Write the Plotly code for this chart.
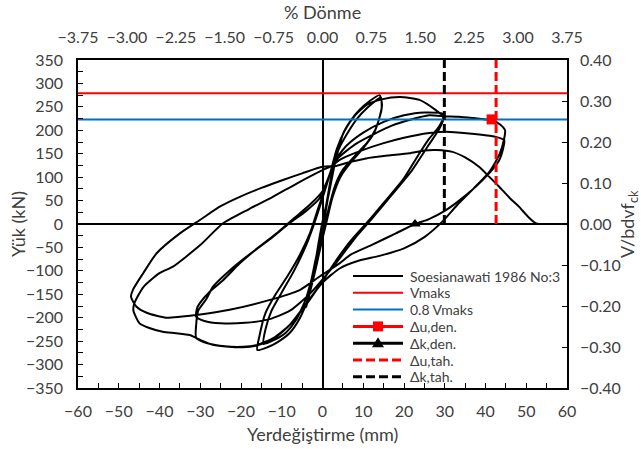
import plotly.graph_objects as go

# ---------------- data ----------------
# hysteresis path (displacement mm, load kN), in loading order
disp_mm = [
    0, 1, 2, 3, 4, 3, 1.5, 0, -1, -2, -3, -4, -3, -1.5, 0,
    1, 2, 3.5, 5, 7, 9, 11.5, 14,
    14.6, 14, 12.5, 10, 7, 4.5, 2.5, 1, -0.5, -2, -3.5, -5.5, -8, -11, -13.5, -16,
    -15.5, -14, -11.5, -8.5, -5.5, -3, -1, 1, 2.5, 4, 6, 8.5, 11, 13.5, 14.3,
    14.5, 13, 11, 8, 5, 3, 1.5, 0, -2, -4, -6.5, -9, -12, -14.5,
    -14, -12.5, -10, -7, -4, -2, 0, 2, 3.5, 5.5, 8, 11, 14.5, 19, 23.8, 27.8, 29.6,
    28.6, 26, 23.8, 19.7, 15.5, 11.5, 7, 3.4, 0, -4, -8, -12, -16, -19.5, -24, -28, -31,
    -31, -30.5, -28.5, -26.9, -22.5, -18.7, -13, -8.1, -4, -0.7, 1.5, 3, 6, 10, 15, 20, 25, 29.8,
    28.8, 26, 22, 17, 12.5, 8, 4.5, 1, -3, -8, -13, -19, -25, -29, -31,
    -30.8, -30.1, -27.5, -24.4, -20.3, -16, -11, -7, -3, 0, 2, 3.4, 8, 13.1, 17, 21.3, 26.2, 30, 33.5, 37, 40.1, 41.5, 43.5, 44.8,
    44.6, 43.5, 41, 37, 33, 29.4, 25, 20, 14, 9, 4.2, 0, -4, -8, -12, -16, -19.5, -23, -26.9, -30.1, -32.6, -36, -39.2, -42.5, -44.9, -46.4,
    -46.2, -44, -40, -36.7, -30, -24.4, -18, -12.2, -6, 0, 2.5, 4.2, 9, 14.8, 20, 26.2, 30.3, 36, 42.5, 44.6,
    44.3, 43.3, 40, 35, 30, 26, 22.7, 18, 12, 7, 4, -0.7, -5.6, -12.9, -22.8, -30, -35, -38.4, -43, -45.7, -47,
    -46.5, -44, -40.7, -35, -30.1, -25, -20.3, -15, -9.7, -5, 0, 3.4, 7, 10.7, 16, 21.3, 25, 28, 31.9, 35, 38.4, 41, 43.3, 46, 48.2, 50.5, 52.3, 53.2,
]
load_kN = [
    0, 45, 95, 140, 172, 128, 62, 5, -42, -95, -142, -178, -132, -68, -15,
    38, 88, 145, 192, 222, 243, 262, 275,
    255, 228, 192, 162, 132, 102, 58, 5, -50, -108, -158, -200, -232, -252, -263, -269,
    -240, -190, -150, -110, -65, -18, 35, 85, 125, 160, 192, 225, 248, 266, 270,
    245, 202, 174, 146, 116, 80, 32, -25, -95, -158, -205, -232, -248, -256,
    -225, -185, -146, -100, -45, 2, 55, 112, 160, 200, 232, 255, 266, 271, 265, 243, 229,
    208, 180, 151, 94, 50, 8.5, -35, -77, -122, -172, -215, -243, -258, -262, -261, -255, -243,
    -215, -185, -160, -134, -97, -70, -33, 1.5, 28, 55, 100, 135, 168, 195, 218, 232, 238, 234,
    205, 168, 115, 62, 15, -30, -70, -108, -148, -185, -203, -211, -212, -207, -198,
    -180, -169, -143, -120, -84, -52, -18, 12, 42, 70, 110, 137, 170, 194, 210, 222, 232, 230, 229, 226, 223, 222, 213, 200,
    183, 150, 112, 75, 40, 5, -28, -52, -68, -78, -95, -125, -170, -215, -245, -259, -263, -262, -258, -247, -237, -233, -230, -222, -212, -185,
    -170, -135, -105, -91, -45, 1.5, 32, 58, 88, 115, 125, 137, 155, 172, 184, 194, 197, 193, 186, 179,
    160, 135, 100, 60, 28, 10, 0, -20, -45, -65, -85, -112, -141, -162, -183, -193, -198, -200, -190, -176, -155,
    -140, -105, -62.5, -20, 8.5, 38, 58, 77, 94, 108, 122, 124, 133, 140, 146, 151, 157, 158, 154, 142, 122, 100, 80, 55, 37, 15, 2, 0,
]

x_range = [-60, 60]
y_range = [-350, 350]
rot_range = [-3.75, 3.75]          # % Dönme (top axis)
norm_range = [-0.40, 0.40]         # V/bdvf_ck (right axis)

v_maks = 279.0
v_08 = 0.8 * v_maks
du_den = (41.5, v_08)    # Δu,den.
dk_den = (22.7, 0.0)     # Δk,den.
du_tah = 42.6            # Δu,tah.
dk_tah = 29.9            # Δk,tah.

series_names = ["Soesianawati 1986 No:3", "Vmaks", "0.8 Vmaks",
                "Δu,den.", "Δk,den.", "Δu,tah.", "Δk,tah."]

FONT = "Lato"
TXT = "#404040"
RED = "#FF0000"
BLUE = "#0070C0"
DASH = "9px,4px"

fig = go.Figure()

fig.add_trace(go.Scatter(x=disp_mm, y=load_kN, mode="lines", name=series_names[0],
                         line=dict(color="black", width=2, shape="spline", smoothing=0.6)))
fig.add_trace(go.Scatter(x=x_range, y=[v_maks, v_maks], mode="lines", name=series_names[1],
                         line=dict(color=RED, width=2)))
fig.add_trace(go.Scatter(x=x_range, y=[v_08, v_08], mode="lines", name=series_names[2],
                         line=dict(color=BLUE, width=2)))
fig.add_trace(go.Scatter(x=[du_den[0]], y=[du_den[1]], mode="markers", name=series_names[3],
                         marker=dict(symbol="square", size=10, color=RED)))
fig.add_trace(go.Scatter(x=[dk_den[0]], y=[dk_den[1]], mode="markers", name=series_names[4],
                         marker=dict(symbol="triangle-up", size=10, color="black")))
fig.add_trace(go.Scatter(x=[du_tah, du_tah], y=[0, y_range[1]], mode="lines", name=series_names[5],
                         line=dict(color=RED, width=3, dash=DASH)))
fig.add_trace(go.Scatter(x=[dk_tah, dk_tah], y=[0, y_range[1]], mode="lines", name=series_names[6],
                         line=dict(color="black", width=3, dash=DASH)))
# helper (invisible) trace so the secondary axes are drawn
fig.add_trace(go.Scatter(x=rot_range, y=norm_range, xaxis="x2", yaxis="y2", mode="markers",
                         marker=dict(opacity=0), showlegend=False, hoverinfo="skip"))

# ---------------- legend drawn inside the plot (compact like the original) ----------------
L, T, PW, PH = 78, 60, 489, 328


def px_x(p):
    return (p - L) / PW


def px_y(p):
    return (T + PH - p) / PH


leg_styles = [("black", "solid", None), (RED, "solid", None), (BLUE, "solid", None),
              (RED, "solid", "square"), ("black", "solid", "triangle"),
              (RED, "dash", None), ("black", "dash", None)]
shapes = []
annotations = []
row0, row_gap = 276, 16.8
x_l0, x_l1, x_txt = 353, 403, 408
for i, (name, (col, dsh, mk)) in enumerate(zip(series_names, leg_styles)):
    yy = row0 + i * row_gap
    shapes.append(dict(type="line", xref="paper", yref="paper",
                       x0=px_x(x_l0), x1=px_x(x_l1), y0=px_y(yy), y1=px_y(yy),
                       line=dict(color=col, width=3 if dsh == "dash" or mk else 2,
                                 dash=DASH if dsh == "dash" else "solid")))
    xm = (x_l0 + x_l1) / 2
    if mk == "square":
        shapes.append(dict(type="rect", xref="paper", yref="paper",
                           x0=px_x(xm - 5), x1=px_x(xm + 5), y0=px_y(yy - 5), y1=px_y(yy + 5),
                           fillcolor=col, line=dict(width=0)))
    elif mk == "triangle":
        p = "M {:.5f},{:.5f} L {:.5f},{:.5f} L {:.5f},{:.5f} Z".format(
            px_x(xm), px_y(yy - 6), px_x(xm - 6), px_y(yy + 4), px_x(xm + 6), px_y(yy + 4))
        shapes.append(dict(type="path", xref="paper", yref="paper", path=p,
                           fillcolor=col, line=dict(width=0)))
    annotations.append(dict(text=name, xref="paper", yref="paper", x=px_x(x_txt), y=px_y(yy),
                            xanchor="left", yanchor="middle", showarrow=False,
                            font=dict(family=FONT, size=14, color=TXT)))

annotations += [
    dict(text="% Dönme", xref="paper", yref="paper", x=0.5, y=px_y(12),
         xanchor="center", yanchor="middle", showarrow=False,
         font=dict(family=FONT, size=18, color=TXT)),
    dict(text="Yerdeğiştirme (mm)", xref="paper", yref="paper", x=0.5, y=px_y(434),
         xanchor="center", yanchor="middle", showarrow=False,
         font=dict(family=FONT, size=18, color=TXT)),
    dict(text="Yük (kN)", xref="paper", yref="paper", x=px_x(18), y=0.5,
         xanchor="center", yanchor="middle", showarrow=False, textangle=-90,
         font=dict(family=FONT, size=18, color=TXT)),
    dict(text="V/bdvf<sub>ck</sub>", xref="paper", yref="paper", x=px_x(628), y=0.5,
         xanchor="center", yanchor="middle", showarrow=False, textangle=-90,
         font=dict(family=FONT, size=18, color=TXT)),
]

tick_font = dict(family=FONT, size=16, color=TXT)

fig.update_layout(
    width=641, height=449,
    margin=dict(l=L, r=641 - L - PW, t=T, b=449 - T - PH),
    paper_bgcolor="white", plot_bgcolor="white",
    font=dict(family=FONT, color=TXT),
    showlegend=False,
    xaxis=dict(range=x_range, dtick=10, tickfont=tick_font, showgrid=False,
               showline=True, mirror=True, linecolor="black", linewidth=1.5,
               ticks="inside", ticklen=5, tickcolor="black",
               minor=dict(dtick=5, ticks="inside", ticklen=5, tickcolor="black"),
               zeroline=True, zerolinecolor="black", zerolinewidth=2,
               ticklabelstandoff=8),
    yaxis=dict(range=y_range, dtick=50, tickfont=tick_font, showgrid=False,
               showline=True, mirror=True, linecolor="black", linewidth=1.5,
               ticks="inside", ticklen=5, tickcolor="black",
               minor=dict(dtick=25, ticks="inside", ticklen=5, tickcolor="black"),
               zeroline=True, zerolinecolor="black", zerolinewidth=2,
               ticklabelstandoff=10),
    xaxis2=dict(range=rot_range, overlaying="x", side="top", tick0=-3.75, dtick=0.75,
                tickformat=".2f", tickfont=tick_font, showgrid=False, zeroline=False,
                showline=False, ticks="", ticklabelstandoff=13),
    yaxis2=dict(range=norm_range, overlaying="y", side="right", dtick=0.1,
                tickformat=".2f", tickfont=tick_font, showgrid=False, zeroline=False,
                showline=False, ticks="inside", ticklen=5, tickcolor="black",
                ticklabelstandoff=12),
    shapes=shapes,
    annotations=annotations,
)

fig.write_html("out.html")
